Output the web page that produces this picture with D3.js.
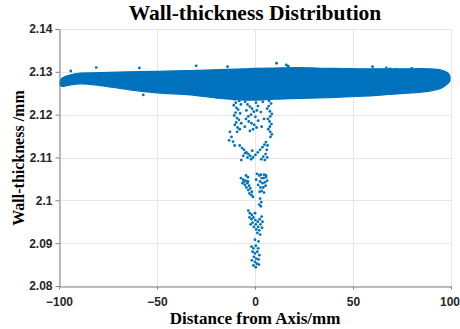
<!DOCTYPE html>
<html>
<head>
<meta charset="utf-8">
<script src="https://cdn.jsdelivr.net/npm/d3@7"></script>
<style>
  body { margin: 0; background: #fff; }
  svg { display: block; }
  .tick text { font-family: "Liberation Sans", Arial, sans-serif; font-weight: bold; font-size: 12px; fill: #262626; }
</style>
</head>
<body>
<div id="chart"></div>
<script>
// axis ticks
const xTicks = [-100, -50, 0, 50, 100];
const yTicks = [2.08, 2.09, 2.10, 2.11, 2.12, 2.13, 2.14];
const yTickLabels = ['2.08', '2.09', '2.1', '2.11', '2.12', '2.13', '2.14'];

// outline of the dense band of points (upper / lower edge)
const bandX      = [-99.5, -98.5, -95, -89, -79, -64, -50, -33, -18, -5, 0, 10, 23, 38, 55, 74, 89, 95, 98.5, 99.5];
const bandTop    = [2.1278, 2.1285, 2.1292, 2.1297, 2.1298, 2.1300, 2.1301, 2.1303, 2.1305, 2.1307, 2.1308, 2.1309, 2.1310, 2.1308, 2.1307, 2.1307, 2.1307, 2.1304, 2.1297, 2.1289];
const bandBottom = [2.1269, 2.1266, 2.1269, 2.1272, 2.1268, 2.1258, 2.1251, 2.1246, 2.1238, 2.1234, 2.1234, 2.1236, 2.1238, 2.1240, 2.1243, 2.1249, 2.1255, 2.1262, 2.1273, 2.1280];

// stray points above / below the band
const outliers = [[-94, 2.1302], [-81, 2.1310], [-59, 2.1309], [-57, 2.1246], [-30, 2.1314], [-14, 2.1312],
  [11, 2.1320], [16, 2.1316], [17, 2.1313], [60, 2.1312], [67, 2.1309], [69, 2.1307], [72, 2.1306], [80, 2.1308]];

// the tail of thinner readings near the axis
const tailUpper = [[-10.5,2.1236],[-9.8,2.1228],[-10.8,2.1222],[-9.5,2.1216],[-8.6,2.1212],[-9.9,2.1205],[-10.6,2.1198],
  [-9.2,2.1192],[-8.2,2.1188],[-9.6,2.1182],[-10.3,2.1176],[-8.9,2.1170],[-7.8,2.1166],[-9.1,2.1160],[-8.0,2.1232],
  [-7.2,2.1224],[-7.6,2.1203],[-7.0,2.1180],
  [-5.0,2.1230],[-3.8,2.1224],[-2.6,2.1219],[-1.5,2.1214],[-0.6,2.1207],[-2.0,2.1200],[-3.4,2.1196],[-4.6,2.1190],
  [-3.2,2.1184],[-1.8,2.1180],[-0.4,2.1176],[0.8,2.1170],[-1.0,2.1166],[-2.6,2.1162],[0.5,2.1228],[1.5,2.1220],
  [1.0,2.1210],[0.2,2.1195],[1.6,2.1186],[-4.4,2.1210],[-5.2,2.1172],
  [6.0,2.1238],[7.2,2.1232],[8.2,2.1226],[7.0,2.1220],[6.2,2.1214],[7.6,2.1208],[8.6,2.1202],[7.8,2.1196],
  [6.6,2.1190],[7.4,2.1184],[8.4,2.1178],[7.6,2.1172],[6.8,2.1166],[7.8,2.1160],[8.6,2.1154],[7.9,2.1148],
  [4.0,2.1230],[3.0,2.1206],[4.6,2.1190],[3.4,2.1172],
  [-12.8,2.1160],[-12.0,2.1148],[-11.2,2.1137],[-10.4,2.1128],[-13.2,2.1140]];
const tailMiddle = [[-7.8,2.1128],[-6.6,2.1122],[-5.6,2.1118],[-4.4,2.1112],[-3.4,2.1108],[-2.4,2.1104],[-5.0,2.1110],
  [-6.0,2.1104],[-3.8,2.1100],[-2.0,2.1096],[-1.0,2.1100],[0.2,2.1106],[1.4,2.1112],[2.6,2.1118],[3.8,2.1124],
  [4.8,2.1130],[5.6,2.1136],[6.4,2.1128],[6.0,2.1118],[5.4,2.1108],[6.2,2.1100],[5.0,2.1094],[4.2,2.1102],
  [3.2,2.1096],[-1.4,2.1116],[-7.0,2.1094],
  [-4.6,2.1058],[-3.6,2.1054],[3.0,2.1060],[4.4,2.1052],[5.6,2.1058]];
const tailLower = [[-7.2,2.1052],[-6.0,2.1048],[-4.8,2.1046],[-6.4,2.1040],[-5.2,2.1036],[-4.0,2.1040],[-3.0,2.1034],
  [-4.4,2.1030],[-3.4,2.1024],[-2.4,2.1028],[-1.6,2.1020],[-2.8,2.1016],[-1.8,2.1012],[-1.0,2.1008],[-5.6,2.1044],
  [-3.6,2.1044],
  [1.0,2.1062],[2.2,2.1058],[3.4,2.1052],[4.6,2.1060],[5.6,2.1054],[6.2,2.1046],[5.0,2.1042],[3.8,2.1040],
  [2.6,2.1044],[1.6,2.1036],[2.8,2.1030],[4.2,2.1030],[5.4,2.1034],[3.4,2.1022],[4.6,2.1018],[2.4,2.1020],
  [0.6,2.1048],[2.6,2.1004],[3.2,2.0996],[2.2,2.0990],[3.0,2.0986],
  [-3.4,2.0976],[-2.6,2.0970],[-1.6,2.0966],[-2.8,2.0960],[-1.8,2.0956],[-0.8,2.0960],[0.2,2.0954],[-1.2,2.0948],
  [0.4,2.0944],[1.4,2.0950],[2.4,2.0956],[3.4,2.0962],[2.8,2.0944],[1.6,2.0938],[0.6,2.0932],[-0.6,2.0938],
  [2.2,2.0930],[3.6,2.0936],[1.2,2.0924],[2.6,2.0920],[-2.2,2.0944],[0.0,2.0970],[3.8,2.0950],
  [0.0,2.0908],[1.8,2.0904],
  [-1.8,2.0892],[-0.8,2.0888],[0.4,2.0894],[1.6,2.0888],[-1.2,2.0880],[0.0,2.0876],[1.2,2.0880],[2.2,2.0872],
  [-0.6,2.0868],[0.6,2.0864],[1.8,2.0862],[-1.6,2.0860],[0.0,2.0856],[1.0,2.0852],[-0.8,2.0848],[0.4,2.0844],
  [2.0,2.0850]];

const width = 460;
const height = 329;
const margin = { top: 29, right: 9, bottom: 43, left: 59 };
const blue = '#0072bd';

const svg = d3.select('#chart')
  .append('svg')
  .attr('width', width)
  .attr('height', height);

const x = d3.scaleLinear()
  .domain([-100, 100])
  .range([margin.left, width - margin.right]);

const y = d3.scaleLinear()
  .domain([2.08, 2.14])
  .range([height - margin.bottom, margin.top]);

// grid
const grid = svg.append('g').attr('stroke', '#e6e6e6').attr('stroke-width', 1);
grid.selectAll('.gx').data(xTicks).join('line')
  .attr('x1', (d) => Math.round(x(d)) + 0.5).attr('x2', (d) => Math.round(x(d)) + 0.5)
  .attr('y1', y(2.14)).attr('y2', y(2.08));
grid.selectAll('.gy').data(yTicks).join('line')
  .attr('y1', (d) => Math.round(y(d)) + 0.5).attr('y2', (d) => Math.round(y(d)) + 0.5)
  .attr('x1', x(-100)).attr('x2', x(100));

// band
const band = bandX.map((d, i) => ({ x: d, top: bandTop[i], bottom: bandBottom[i] }));
const area = d3.area()
  .x((d) => x(d.x))
  .y0((d) => y(d.bottom))
  .y1((d) => y(d.top))
  .curve(d3.curveCatmullRom);

svg.append('path')
  .datum(band)
  .attr('fill', blue)
  .attr('stroke', blue)
  .attr('stroke-width', 1.2)
  .attr('d', area);

// scattered points
const points = outliers.concat(tailUpper, tailMiddle, tailLower);
svg.append('g')
  .selectAll('circle')
  .data(points)
  .join('circle')
  .attr('cx', (d) => x(d[0]))
  .attr('cy', (d) => y(d[1]))
  .attr('r', 1.4)
  .attr('fill', blue);

// axes
const xAxis = svg.append('g')
  .attr('transform', `translate(0, ${Math.round(y(2.08)) + 0.5})`)
  .call(d3.axisBottom(x).tickValues(xTicks).tickSize(3).tickPadding(8).tickSizeOuter(0));
const yAxis = svg.append('g')
  .attr('transform', `translate(${Math.round(x(-100)) + 0.5}, 0)`)
  .call(d3.axisLeft(y).tickValues(yTicks).tickFormat((d, i) => yTickLabels[i]).tickSize(4).tickPadding(3).tickSizeOuter(0));

[xAxis, yAxis].forEach((g) => {
  g.select('.domain').attr('stroke', '#808080');
  g.selectAll('.tick line').attr('stroke', '#808080');
});

// last x label sits against the page edge
xAxis.selectAll('.tick text').filter((d) => d === 100).attr('dx', -1.5);

// titles
svg.append('text')
  .attr('x', 255)
  .attr('y', 20)
  .attr('text-anchor', 'middle')
  .attr('font-family', '"Liberation Serif", "Times New Roman", serif')
  .attr('font-weight', 'bold')
  .attr('font-size', 21.5)
  .text('Wall-thickness Distribution');

svg.append('text')
  .attr('x', 255)
  .attr('y', 324)
  .attr('text-anchor', 'middle')
  .attr('font-family', '"Liberation Serif", "Times New Roman", serif')
  .attr('font-weight', 'bold')
  .attr('font-size', 17)
  .text('Distance from Axis/mm');

svg.append('text')
  .attr('transform', 'translate(24, 158) rotate(-90)')
  .attr('text-anchor', 'middle')
  .attr('font-family', '"Liberation Serif", "Times New Roman", serif')
  .attr('font-weight', 'bold')
  .attr('font-size', 16)
  .text('Wall-thickness /mm');
</script>
</body>
</html>
